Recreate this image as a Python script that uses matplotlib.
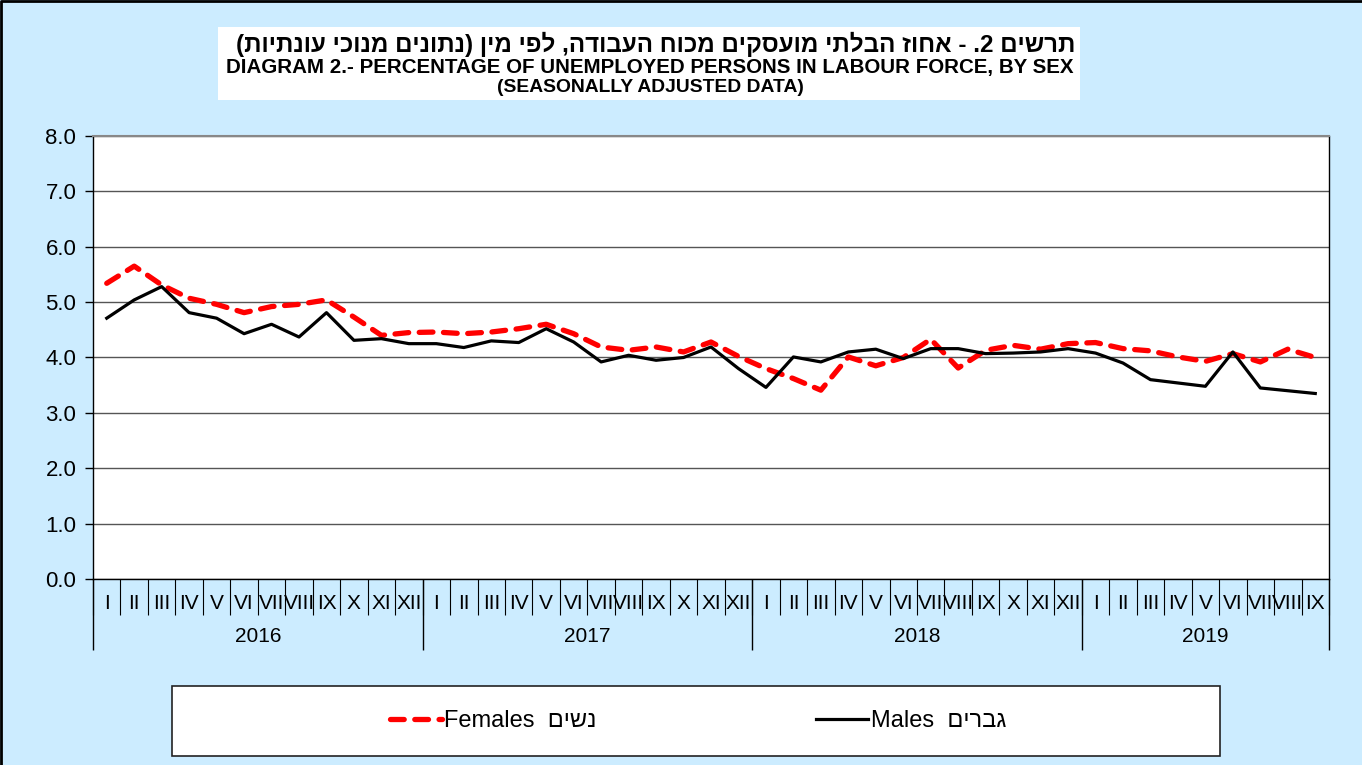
import numpy as np
import matplotlib
matplotlib.use("Agg")
import matplotlib.pyplot as plt
import matplotlib.transforms as mtransforms
from matplotlib.patches import Rectangle

plt.rcParams['font.family'] = ['Liberation Sans', 'DejaVu Sans']

# data
years = ["2016", "2017", "2018", "2019"]
months_per_year = [12, 12, 12, 9]
roman = ["I", "II", "III", "IV", "V", "VI", "VII", "VIII", "IX", "X", "XI", "XII"]

females = [5.34, 5.65, 5.31, 5.07, 4.96, 4.81, 4.92, 4.96, 5.04, 4.73, 4.40, 4.45,
           4.46, 4.43, 4.46, 4.52, 4.60, 4.43, 4.19, 4.13, 4.19, 4.10, 4.28, 4.02,
           3.80, 3.62, 3.41, 4.01, 3.85, 4.00, 4.33, 3.81, 4.13, 4.22, 4.15, 4.25,
           4.27, 4.16, 4.12, 4.01, 3.93, 4.07, 3.92, 4.15, 4.00]
males = [4.71, 5.04, 5.28, 4.81, 4.71, 4.43, 4.60, 4.37, 4.81, 4.31, 4.34, 4.25,
         4.25, 4.18, 4.30, 4.27, 4.52, 4.28, 3.92, 4.04, 3.95, 4.00, 4.19, 3.80,
         3.46, 4.01, 3.92, 4.10, 4.15, 3.98, 4.16, 4.16, 4.07, 4.08, 4.10, 4.16,
         4.08, 3.90, 3.60, 3.54, 3.48, 4.10, 3.45, 3.40, 3.35]

title_he = "תרשים 2. - אחוז הבלתי מועסקים מכוח העבודה, לפי מין (נתונים מנוכי עונתיות)"
title_en = "DIAGRAM 2.- PERCENTAGE OF UNEMPLOYED PERSONS IN LABOUR FORCE, BY SEX"
subtitle = "(SEASONALLY ADJUSTED DATA)"
label_f = ("Females", "נשים")
label_m = ("Males", "גברים")


def visual(s):
    # no bidi in matplotlib, so flip hebrew by hand
    return s[::-1].translate(str.maketrans("()", ")("))


month_labels = [roman[m] for n in months_per_year for m in range(n)]
x = np.arange(len(month_labels))

W, H = 1362, 765
bg = '#CCECFF'
fig = plt.figure(figsize=(W / 100, H / 100), dpi=100, facecolor=bg)

# white box behind the title
fig.patches.append(Rectangle((218 / W, 1 - 100 / H), (1080 - 218) / W, 73 / H,
                             transform=fig.transFigure, facecolor='white', edgecolor='none'))
# legend box
fig.patches.append(Rectangle((172 / W, 1 - 756 / H), (1220 - 172) / W, 70 / H,
                             transform=fig.transFigure, facecolor='white',
                             edgecolor='#222222', lw=1.2))
# border of the sheet
fig.add_artist(plt.Line2D([0.001, 0.001, 1], [0, 0.999, 0.999], transform=fig.transFigure,
                          color='black', lw=2))

ax = fig.add_axes([93 / W, 1 - 579 / H, 1236 / W, 443 / H])
ax.set_facecolor('white')

l_f, = ax.plot(x, females, color='#FF0000', lw=3.8, ls=(0, (2.6, 2.0)),
               dash_capstyle='round', zorder=3)
l_m, = ax.plot(x, males, color='black', lw=2.3, zorder=4)

ax.set_xlim(-0.5, len(x) - 0.5)
ax.set_ylim(0, 8)
ax.set_yticks(np.arange(0, 8.01, 1.0))
ax.set_yticklabels([f"{v:.1f}" for v in np.arange(0, 8.01, 1.0)])
ax.yaxis.grid(True, color='#555555', lw=1.0)
ax.set_axisbelow(True)
ax.tick_params(axis='y', length=6, width=1, pad=6, labelsize=16)
ax.set_xticks(x)
ax.set_xticklabels(month_labels)
ax.tick_params(axis='x', length=0, pad=11, labelsize=15)

for s in ['left', 'bottom', 'right']:
    ax.spines[s].set_color('black')
    ax.spines[s].set_linewidth(1.0)
ax.spines['top'].set_color('#888888')
ax.spines['top'].set_linewidth(1.5)

# category separators below the axis
trans = mtransforms.blended_transform_factory(ax.transData, ax.transAxes)
ax.vlines(np.arange(-0.5, len(x), 1.0), -36 / 443, 0, transform=trans,
          clip_on=False, color='black', lw=0.8)
edges = np.concatenate([[0], np.cumsum(months_per_year)]) - 0.5
ax.vlines(edges, -71 / 443, 0, transform=trans, clip_on=False, color='black', lw=1.0)
for yr, a, b in zip(years, edges[:-1], edges[1:]):
    ax.text((a + b) / 2, -58 / 443, yr, transform=trans, ha='center', va='center',
            fontsize=15)

# titles, sized to the widths in the original
r = fig.canvas.get_renderer()


def fit(t, target):
    w = t.get_window_extent(r).width
    t.set_fontsize(t.get_fontsize() * target / w)


t1 = fig.text(656 / W, 1 - 44 / H, visual(title_he), ha='center', va='center',
              fontsize=15, fontweight='bold')
t2 = fig.text(650 / W, 1 - 68 / H, title_en, ha='center', va='center',
              fontsize=13, fontweight='bold')
t3 = fig.text(650 / W, 1 - 88 / H, subtitle, ha='center', va='center',
              fontsize=10, fontweight='bold')
fit(t1, 838)
fit(t2, 849)
fit(t3, 306)

fig.legend([l_f, l_m],
           [f"{label_f[0]}  {visual(label_f[1])}", f"{label_m[0]}  {visual(label_m[1])}"],
           loc='center', bbox_to_anchor=(698 / W, 1 - 721 / H), ncol=2, frameon=False,
           fontsize=17, handlelength=2.2, handletextpad=0.1, columnspacing=9.3)

fig.savefig("out.png", dpi=100, facecolor=bg)
